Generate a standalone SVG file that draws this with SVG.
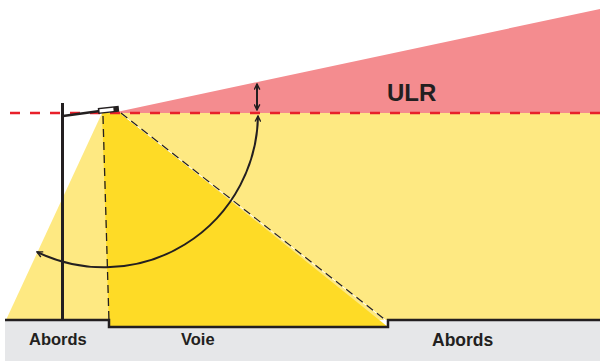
<svg xmlns="http://www.w3.org/2000/svg" width="600" height="361" viewBox="0 0 600 361">
<defs>
<style>
.lbl{font-family:"Liberation Sans",Arial,sans-serif;font-weight:bold;fill:#231F20}
.ink{stroke:#231F20;fill:none}
</style>
<marker id="ah" viewBox="0 0 10 10" refX="9" refY="5" markerWidth="7" markerHeight="7" orient="auto-start-reverse" markerUnits="userSpaceOnUse">
<path d="M1,1 L9,5 L1,9" fill="none" stroke="#231F20" stroke-width="2"/>
</marker>
</defs>
<rect width="600" height="361" fill="#fff"/>
<g id="ground">
<path d="M5,320 H109 V327 H388 V320 H600 V361 H5 Z" fill="#E6E7E9"/>
</g>
<g id="ulr-zone">
<polygon points="112,113 600,9 600,113" fill="#F48C8F"/>
</g>
<g id="light-zone">
<polygon points="6,320 102,113 600,113 600,320" fill="#FEE982"/>
</g>
<g id="road-zone">
<polygon points="102,113 121,113 388,327 109,327" fill="#FEDB26"/>
</g>
<g id="connectors">
<line x1="10" y1="113" x2="600" y2="113" stroke="#E8202A" stroke-width="2.5" stroke-dasharray="10 10"/>
<line x1="122" y1="114.5" x2="389" y2="323" stroke="#fff" stroke-width="1"/>
<line x1="121" y1="113" x2="388" y2="322" class="ink" stroke-width="1.2" stroke-dasharray="8 5"/>
<line x1="103" y1="116" x2="109" y2="322" class="ink" stroke-width="1.3" stroke-dasharray="8 5"/>
<line x1="257" y1="84" x2="257" y2="110" class="ink" stroke-width="2" marker-start="url(#ah)" marker-end="url(#ah)"/>
<path d="M258,116 A154,154 0 0 1 37,252" class="ink" stroke-width="2" marker-start="url(#ah)" marker-end="url(#ah)"/>
</g>
<g id="ground-line">
<path d="M5,320 H109 V327 H388 V320 H600" class="ink" stroke-width="2.5"/>
</g>
<g id="pole">
<line x1="62.5" y1="103" x2="62.5" y2="320" class="ink" stroke-width="3"/>
<line x1="63" y1="116" x2="100" y2="111" class="ink" stroke-width="2.5"/>
<g transform="rotate(-6 108 110)">
<rect x="98" y="107" width="21" height="6" fill="#231F20"/>
<rect x="99.5" y="108.3" width="14" height="3.2" fill="#fff"/>
</g>
</g>
<g id="labels">
<text class="lbl" x="387" y="101" font-size="24">ULR</text>
<text class="lbl" x="29" y="345" font-size="16.5">Abords</text>
<text class="lbl" x="181" y="345" font-size="16.5">Voie</text>
<text class="lbl" x="432" y="346" font-size="17.5">Abords</text>
</g>
</svg>
